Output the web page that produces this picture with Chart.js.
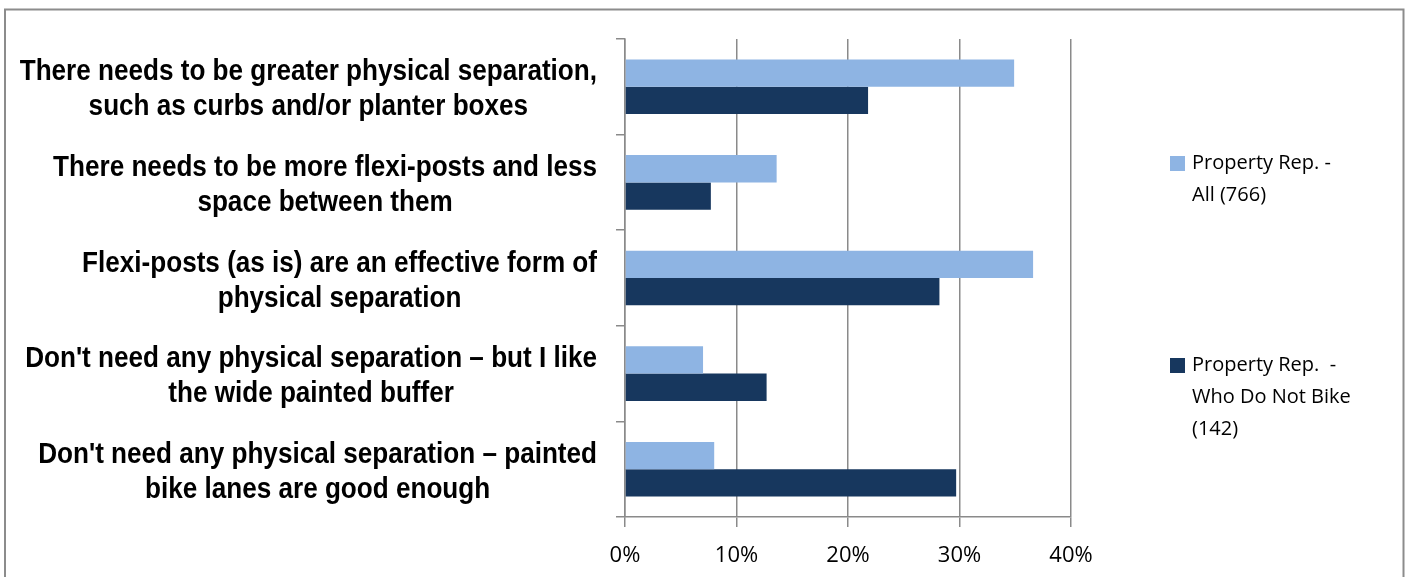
<!DOCTYPE html>
<html>
<head>
<meta charset="utf-8">
<script src="https://cdn.jsdelivr.net/npm/chart.js@4.4.1/dist/chart.umd.min.js"></script>
<style>
  html, body { margin: 0; padding: 0; background: #ffffff; }
  #wrap { width: 1406px; height: 577px; position: relative; }
</style>
</head>
<body>
<div id="wrap"><canvas id="c" width="1406" height="577"></canvas></div>
<script>
const categories = [
  ["There needs to be greater physical separation,", "such as curbs and/or planter boxes"],
  ["There needs to be more flexi-posts and less", "space between them"],
  ["Flexi-posts (as is) are an effective form of", "physical separation"],
  ["Don't need any physical separation \u2013 but I like", "the wide painted buffer"],
  ["Don't need any physical separation \u2013 painted", "bike lanes are good enough"]
];
const seriesAll = [34.9, 13.6, 36.6, 7.0, 8.0];
const seriesNoBike = [21.8, 7.7, 28.2, 12.7, 29.7];
const seriesNames = ["Property Rep. - All (766)", "Property Rep.  - Who Do Not Bike (142)"];
const legendLines = [
  ["Property Rep. -", "All (766)"],
  ["Property Rep.  -", "Who Do Not Bike", "(142)"]
];
const xTicks = [0, 10, 20, 30, 40];

const LIGHT = '#8EB4E3';
const DARK = '#17375E';
const GRID = '#8a8a8a';

const framePlugin = {
  id: 'frame',
  beforeDraw(chart) {
    const ctx = chart.ctx;
    ctx.save();
    ctx.fillStyle = '#ffffff';
    ctx.fillRect(0, 0, chart.width, chart.height);
    ctx.strokeStyle = '#8c8c8c';
    ctx.lineWidth = 2;
    ctx.strokeRect(5, 9.5, 1398.5, 620);
    ctx.restore();
  }
};

// category labels drawn in a narrow bold face, each block right-aligned with centred lines
const yLabelPlugin = {
  id: 'yLabels',
  afterDraw(chart) {
    const ctx = chart.ctx;
    const ys = chart.scales.y;
    const sx = 0.9;
    const lineH = 35;
    const rightEdge = 597;
    ctx.save();
    ctx.font = 'bold 29px "Liberation Sans", Arial, sans-serif';
    ctx.fillStyle = '#000000';
    ctx.textBaseline = 'middle';
    ctx.textAlign = 'center';
    chart.data.labels.forEach((lab, i) => {
      const cy = ys.getPixelForTick(i) + 3;
      const widths = lab.map(t => ctx.measureText(t).width * sx);
      const widest = Math.max(...widths);
      const cx = rightEdge - widest / 2;
      const y0 = cy - (lab.length - 1) * lineH / 2;
      lab.forEach((t, j) => {
        ctx.save();
        ctx.translate(cx, y0 + j * lineH);
        ctx.scale(sx, 1);
        ctx.fillText(t, 0, 0);
        ctx.restore();
      });
    });
    ctx.restore();
  }
};

const legendPlugin = {
  id: 'customLegend',
  afterDraw(chart) {
    const ctx = chart.ctx;
    ctx.save();
    ctx.font = '20px "Open Sans", "Noto Sans", sans-serif';
    ctx.textBaseline = 'middle';
    ctx.textAlign = 'left';
    const starts = [163, 365];
    chart.data.datasets.forEach((ds, i) => {
      const y0 = starts[i];
      ctx.fillStyle = ds.backgroundColor;
      ctx.fillRect(1170, y0 - 7, 15, 15);
      ctx.fillStyle = '#000000';
      legendLines[i].forEach((ln, j) => {
        ctx.fillText(ln, 1192, y0 + j * 32);
      });
    });
    ctx.restore();
  }
};

new Chart(document.getElementById('c'), {
  type: 'bar',
  data: {
    labels: categories,
    datasets: [
      { label: seriesNames[0], data: seriesAll, backgroundColor: LIGHT, borderWidth: 0,
        categoryPercentage: 0.571, barPercentage: 1.0 },
      { label: seriesNames[1], data: seriesNoBike, backgroundColor: DARK, borderWidth: 0,
        categoryPercentage: 0.571, barPercentage: 1.0 }
    ]
  },
  options: {
    indexAxis: 'y',
    responsive: false,
    animation: false,
    devicePixelRatio: 1,
    layout: { padding: { top: 39, right: 335, bottom: 0, left: 0 } },
    plugins: {
      legend: { display: false },
      tooltip: { enabled: false },
      title: { display: false }
    },
    scales: {
      x: {
        min: 0, max: 40,
        afterFit(scale) { scale.height = 60; },
        afterBuildTicks(scale) { scale.ticks = xTicks.map(v => ({ value: v })); },
        grid: { display: true, drawOnChartArea: true, drawTicks: true, tickLength: 10,
                color: GRID, lineWidth: 1.5 },
        border: { display: true, color: GRID, width: 1.5 },
        ticks: {
          padding: 16,
          color: '#000000',
          font: { family: '"Open Sans", "Noto Sans", sans-serif', size: 22 },
          callback: (v) => v + '%'
        }
      },
      y: {
        afterFit(scale) { scale.width = 625; },
        grid: { display: true, drawOnChartArea: false, drawTicks: true, tickLength: 9,
                color: GRID, lineWidth: 1.5, offset: true },
        border: { display: true, color: GRID, width: 1.5 },
        ticks: { display: false }
      }
    }
  },
  plugins: [framePlugin, yLabelPlugin, legendPlugin]
});
</script>
</body>
</html>
